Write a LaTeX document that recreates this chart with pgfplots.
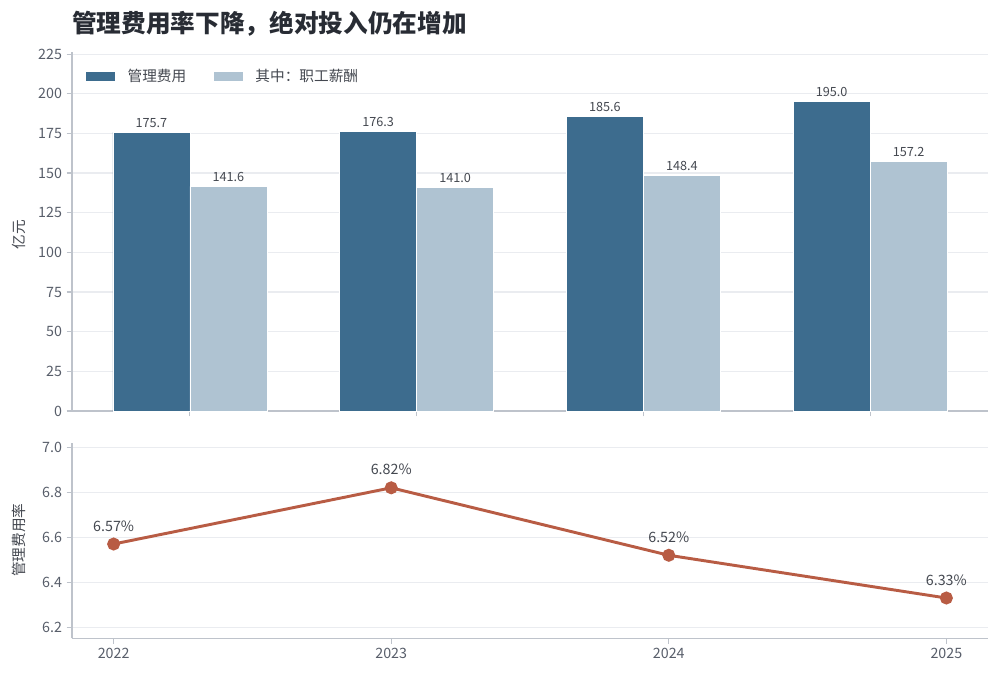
\documentclass[border=0pt]{standalone}
\usepackage{pgfplots}
\pgfplotsset{compat=1.18}
\usepackage{fontspec}
\setmainfont{Noto Sans CJK SC}
\definecolor{darkbar}{RGB}{61,108,142}
\definecolor{lightbar}{RGB}{175,195,210}
\definecolor{linec}{RGB}{184,92,68}
\definecolor{spine}{RGB}{190,195,203}
\definecolor{gridc}{RGB}{234,236,240}
\definecolor{tickc}{RGB}{88,94,106}
\definecolor{titlec}{RGB}{40,44,52}
\definecolor{labc}{RGB}{68,72,80}
\pgfplotsset{
  mystyle/.style={
    scale only axis,
    axis lines*=left,
    axis line style={spine, line width=0.8pt},
    every tick/.style={spine, line width=0.8pt},
    tick align=outside,
    major tick length=4pt,
    ymajorgrids,
    grid style={gridc, line width=0.8pt},
    tick label style={font=\fontsize{10.7pt}{12pt}\selectfont, text=tickc},
    /pgf/number format/assume math mode=true,
    clip=false,
  }
}
\begin{document}
\begin{tikzpicture}
\useasboundingbox (0,0) rectangle (750pt,-507.75pt);
\node[anchor=west, text=titlec, font=\fontsize{18.5pt}{20pt}\selectfont\bfseries, inner sep=0pt] at (54pt,-17.5pt) {管理费用率下降，绝对投入仍在增加};
\node[rotate=90, text=labc, font=\fontsize{11pt}{12pt}\selectfont, inner sep=0pt] at (14pt,-176pt) {亿元};
\node[rotate=90, text=labc, font=\fontsize{11pt}{12pt}\selectfont, inner sep=0pt] at (14pt,-405pt) {管理费用率};
\begin{axis}[
  mystyle,
  at={(54pt,-308.25pt)}, anchor=south west,
  width=687pt, height=269.5pt,
  xmin=-0.52, xmax=3.52,
  ymin=0, ymax=226.5,
  ytick={0,25,...,225},
  xtick={0,1,2,3}, xticklabels={},
  ybar=0pt, bar width=57.75pt,
  legend style={draw=none, fill=none, at={(0.014,0.96)}, anchor=north west, inner sep=0pt,
    font=\fontsize{11pt}{12pt}\selectfont, text=labc,
    /tikz/every odd column/.append style={column sep=7pt},
    /tikz/every even column/.append style={column sep=18pt}},
  legend columns=2,
  legend image code/.code={\fill[#1] (0pt,-3.75pt) rectangle (22.5pt,3.75pt);},
  nodes near coords, point meta=explicit symbolic,
  every node near coord/.append style={font=\fontsize{9.5pt}{11pt}\selectfont, text=labc, anchor=south, inner sep=3.5pt},
]
\addplot[fill=darkbar, draw=white, line width=0.4pt] coordinates {(0,175.7)[175.7] (1,176.3)[176.3] (2,185.6)[185.6] (3,195.0)[195.0]};
\addplot[fill=lightbar, draw=white, line width=0.4pt] coordinates {(0,141.6)[141.6] (1,141.0)[141.0] (2,148.4)[148.4] (3,157.2)[157.2]};
\legend{管理费用,其中：职工薪酬}
\end{axis}
\begin{axis}[
  mystyle,
  at={(54pt,-478.7pt)}, anchor=south west,
  width=687pt, height=146.25pt,
  xmin=2021.85, xmax=2025.15,
  ymin=6.151, ymax=7.018,
  ytick={6.2,6.4,6.6,6.8,7.0},
  yticklabel style={/pgf/number format/.cd, fixed, fixed zerofill, precision=1},
  xtick={2022,2023,2024,2025},
  xticklabel style={/pgf/number format/1000 sep={}},
  nodes near coords, point meta=explicit symbolic,
  every node near coord/.append style={font=\fontsize{10.7pt}{12pt}\selectfont, text=labc, anchor=south, yshift=8.5pt, inner sep=0pt},
]
\addplot[linec, line width=2.2pt, mark=*, mark size=3.75pt, mark options={solid, fill=linec, draw=none}] coordinates {(2022,6.57)[6.57\%] (2023,6.82)[6.82\%] (2024,6.52)[6.52\%] (2025,6.33)[6.33\%]};
\end{axis}
\end{tikzpicture}
\end{document}
